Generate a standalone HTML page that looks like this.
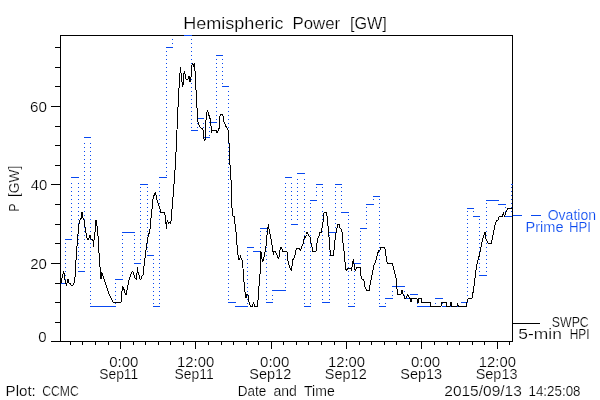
<!DOCTYPE html>
<html><head><meta charset="utf-8"><title>Hemispheric Power</title>
<style>
html,body{margin:0;padding:0;background:#fff;}
body{width:600px;height:400px;overflow:hidden;}
svg{display:block;font-family:"Liberation Sans",sans-serif;will-change:transform;}
</style></head><body>
<svg width="600" height="400" viewBox="0 0 600 400">
<rect width="600" height="400" fill="#fff"/>
<g shape-rendering="crispEdges" fill="none">
<rect x="60.5" y="35.5" width="452.0" height="306.0" stroke="#000" stroke-width="1"/>
<path d="M60.5 341.5h-10M60.5 322.5h-5.5M60.5 302.5h-5.5M60.5 283.5h-5.5M60.5 263.5h-10M60.5 243.5h-5.5M60.5 224.5h-5.5M60.5 204.5h-5.5M60.5 184.5h-10M60.5 165.5h-5.5M60.5 145.5h-5.5M60.5 126.5h-5.5M60.5 106.5h-10M60.5 86.5h-5.5M60.5 67.5h-5.5M60.5 47.5h-5.5M70.5 341.5v3.5M82.5 341.5v3.5M95.5 341.5v3.5M108.5 341.5v3.5M120.5 341.5v7.5M133.5 341.5v3.5M145.5 341.5v3.5M158.5 341.5v3.5M170.5 341.5v3.5M183.5 341.5v3.5M195.5 341.5v7.5M208.5 341.5v3.5M221.5 341.5v3.5M233.5 341.5v3.5M246.5 341.5v3.5M258.5 341.5v3.5M271.5 341.5v7.5M283.5 341.5v3.5M296.5 341.5v3.5M308.5 341.5v3.5M321.5 341.5v3.5M334.5 341.5v3.5M346.5 341.5v7.5M359.5 341.5v3.5M371.5 341.5v3.5M384.5 341.5v3.5M396.5 341.5v3.5M409.5 341.5v3.5M421.5 341.5v7.5M434.5 341.5v3.5M447.5 341.5v3.5M459.5 341.5v3.5M472.5 341.5v3.5M484.5 341.5v3.5M497.5 341.5v7.5M509.5 341.5v3.5" stroke="#000" stroke-width="1"/>
<path d="M60.0 283.5H66.0M65.0 239.5H72.0M71.0 177.5H79.0M78.0 271.5H85.0M84.0 137.5H91.0M90.0 306.5H97.0M96.0 306.5H104.0M103.0 306.5H110.0M109.0 306.5H116.0M115.0 279.5H123.0M122.0 232.5H129.0M128.0 232.5H135.0M134.0 263.5H141.0M140.0 184.5H148.0M147.0 255.5H154.0M153.0 306.5H160.0M159.0 177.5H167.0M166.0 47.5H173.0M184.0 35.5H192.0M191.0 130.5H198.0M197.0 118.5H204.0M203.0 137.5H210.0M209.0 122.5H217.0M216.0 55.5H223.0M222.0 86.5H229.0M228.0 302.5H236.0M235.0 306.5H242.0M241.0 306.5H248.0M247.0 247.5H254.0M253.0 251.5H261.0M260.0 228.5H267.0M266.0 302.5H273.0M272.0 290.5H280.0M279.0 290.5H286.0M285.0 177.5H292.0M291.0 224.5H298.0M297.0 173.5H305.0M304.0 306.5H311.0M310.0 200.5H317.0M316.0 184.5H323.0M322.0 302.5H330.0M329.0 232.5H336.0M335.0 184.5H342.0M341.0 212.5H349.0M348.0 306.5H355.0M354.0 263.5H361.0M360.0 228.5H367.0M366.0 204.5H374.0M373.0 196.5H380.0M379.0 306.5H386.0M385.0 298.5H393.0M392.0 286.5H399.0M398.0 286.5H405.0M404.0 298.5H411.0M410.0 294.5H418.0M417.0 306.5H424.0M423.0 306.5H430.0M429.0 306.5H436.0M435.0 298.5H443.0M442.0 306.5H449.0M448.0 306.5H455.0M454.0 306.5H462.0M461.0 302.5H468.0M467.0 208.5H474.0M473.0 216.5H480.0M479.0 275.5H487.0M486.0 200.5H493.0M492.0 200.5H499.0M498.0 204.5H506.0M505.0 216.5H512.0M511.0 184.5H513.0" stroke="#0848F0" stroke-width="1"/>
<path d="M65.0 243.5h1M65.0 247.5h1M65.0 251.5h1M65.0 255.5h1M65.0 259.5h1M65.0 263.5h1M65.0 267.5h1M65.0 271.5h1M65.0 275.5h1M65.0 279.5h1M71.0 183.5h1M71.0 187.5h1M71.0 191.5h1M71.0 195.5h1M71.0 199.5h1M71.0 203.5h1M71.0 207.5h1M71.0 211.5h1M71.0 215.5h1M71.0 219.5h1M71.0 223.5h1M71.0 227.5h1M71.0 231.5h1M71.0 235.5h1M78.0 183.5h1M78.0 187.5h1M78.0 191.5h1M78.0 195.5h1M78.0 199.5h1M78.0 203.5h1M78.0 207.5h1M78.0 211.5h1M78.0 215.5h1M78.0 219.5h1M78.0 223.5h1M78.0 227.5h1M78.0 231.5h1M78.0 235.5h1M78.0 239.5h1M78.0 243.5h1M78.0 247.5h1M78.0 251.5h1M78.0 255.5h1M78.0 259.5h1M78.0 263.5h1M78.0 267.5h1M84.0 143.5h1M84.0 147.5h1M84.0 151.5h1M84.0 155.5h1M84.0 159.5h1M84.0 163.5h1M84.0 167.5h1M84.0 171.5h1M84.0 175.5h1M84.0 179.5h1M84.0 183.5h1M84.0 187.5h1M84.0 191.5h1M84.0 195.5h1M84.0 199.5h1M84.0 203.5h1M84.0 207.5h1M84.0 211.5h1M84.0 215.5h1M84.0 219.5h1M84.0 223.5h1M84.0 227.5h1M84.0 231.5h1M84.0 235.5h1M84.0 239.5h1M84.0 243.5h1M84.0 247.5h1M84.0 251.5h1M84.0 255.5h1M84.0 259.5h1M84.0 263.5h1M84.0 267.5h1M90.0 143.5h1M90.0 147.5h1M90.0 151.5h1M90.0 155.5h1M90.0 159.5h1M90.0 163.5h1M90.0 167.5h1M90.0 171.5h1M90.0 175.5h1M90.0 179.5h1M90.0 183.5h1M90.0 187.5h1M90.0 191.5h1M90.0 195.5h1M90.0 199.5h1M90.0 203.5h1M90.0 207.5h1M90.0 211.5h1M90.0 215.5h1M90.0 219.5h1M90.0 223.5h1M90.0 227.5h1M90.0 231.5h1M90.0 235.5h1M90.0 239.5h1M90.0 243.5h1M90.0 247.5h1M90.0 251.5h1M90.0 255.5h1M90.0 259.5h1M90.0 263.5h1M90.0 267.5h1M90.0 271.5h1M90.0 275.5h1M90.0 279.5h1M90.0 283.5h1M90.0 287.5h1M90.0 291.5h1M90.0 295.5h1M90.0 299.5h1M90.0 303.5h1M115.0 283.5h1M115.0 287.5h1M115.0 291.5h1M115.0 295.5h1M115.0 299.5h1M115.0 303.5h1M122.0 235.5h1M122.0 239.5h1M122.0 243.5h1M122.0 247.5h1M122.0 251.5h1M122.0 255.5h1M122.0 259.5h1M122.0 263.5h1M122.0 267.5h1M122.0 271.5h1M122.0 275.5h1M134.0 235.5h1M134.0 239.5h1M134.0 243.5h1M134.0 247.5h1M134.0 251.5h1M134.0 255.5h1M134.0 259.5h1M140.0 187.5h1M140.0 191.5h1M140.0 195.5h1M140.0 199.5h1M140.0 203.5h1M140.0 207.5h1M140.0 211.5h1M140.0 215.5h1M140.0 219.5h1M140.0 223.5h1M140.0 227.5h1M140.0 231.5h1M140.0 235.5h1M140.0 239.5h1M140.0 243.5h1M140.0 247.5h1M140.0 251.5h1M140.0 255.5h1M140.0 259.5h1M147.0 187.5h1M147.0 191.5h1M147.0 195.5h1M147.0 199.5h1M147.0 203.5h1M147.0 207.5h1M147.0 211.5h1M147.0 215.5h1M147.0 219.5h1M147.0 223.5h1M147.0 227.5h1M147.0 231.5h1M147.0 235.5h1M147.0 239.5h1M147.0 243.5h1M147.0 247.5h1M147.0 251.5h1M153.0 259.5h1M153.0 263.5h1M153.0 267.5h1M153.0 271.5h1M153.0 275.5h1M153.0 279.5h1M153.0 283.5h1M153.0 287.5h1M153.0 291.5h1M153.0 295.5h1M153.0 299.5h1M153.0 303.5h1M159.0 183.5h1M159.0 187.5h1M159.0 191.5h1M159.0 195.5h1M159.0 199.5h1M159.0 203.5h1M159.0 207.5h1M159.0 211.5h1M159.0 215.5h1M159.0 219.5h1M159.0 223.5h1M159.0 227.5h1M159.0 231.5h1M159.0 235.5h1M159.0 239.5h1M159.0 243.5h1M159.0 247.5h1M159.0 251.5h1M159.0 255.5h1M159.0 259.5h1M159.0 263.5h1M159.0 267.5h1M159.0 271.5h1M159.0 275.5h1M159.0 279.5h1M159.0 283.5h1M159.0 287.5h1M159.0 291.5h1M159.0 295.5h1M159.0 299.5h1M159.0 303.5h1M166.0 51.5h1M166.0 55.5h1M166.0 59.5h1M166.0 63.5h1M166.0 67.5h1M166.0 71.5h1M166.0 75.5h1M166.0 79.5h1M166.0 83.5h1M166.0 87.5h1M166.0 91.5h1M166.0 95.5h1M166.0 99.5h1M166.0 103.5h1M166.0 107.5h1M166.0 111.5h1M166.0 115.5h1M166.0 119.5h1M166.0 123.5h1M166.0 127.5h1M166.0 131.5h1M166.0 135.5h1M166.0 139.5h1M166.0 143.5h1M166.0 147.5h1M166.0 151.5h1M166.0 155.5h1M166.0 159.5h1M166.0 163.5h1M166.0 167.5h1M166.0 171.5h1M166.0 175.5h1M172.0 39.5h1M172.0 43.5h1M191.0 39.5h1M191.0 43.5h1M191.0 47.5h1M191.0 51.5h1M191.0 55.5h1M191.0 59.5h1M191.0 63.5h1M191.0 67.5h1M191.0 71.5h1M191.0 75.5h1M191.0 79.5h1M191.0 83.5h1M191.0 87.5h1M191.0 91.5h1M191.0 95.5h1M191.0 99.5h1M191.0 103.5h1M191.0 107.5h1M191.0 111.5h1M191.0 115.5h1M191.0 119.5h1M191.0 123.5h1M191.0 127.5h1M197.0 123.5h1M197.0 127.5h1M203.0 123.5h1M203.0 127.5h1M203.0 131.5h1M203.0 135.5h1M209.0 127.5h1M209.0 131.5h1M209.0 135.5h1M216.0 59.5h1M216.0 63.5h1M216.0 67.5h1M216.0 71.5h1M216.0 75.5h1M216.0 79.5h1M216.0 83.5h1M216.0 87.5h1M216.0 91.5h1M216.0 95.5h1M216.0 99.5h1M216.0 103.5h1M216.0 107.5h1M216.0 111.5h1M216.0 115.5h1M216.0 119.5h1M222.0 59.5h1M222.0 63.5h1M222.0 67.5h1M222.0 71.5h1M222.0 75.5h1M222.0 79.5h1M222.0 83.5h1M228.0 91.5h1M228.0 95.5h1M228.0 99.5h1M228.0 103.5h1M228.0 107.5h1M228.0 111.5h1M228.0 115.5h1M228.0 119.5h1M228.0 123.5h1M228.0 127.5h1M228.0 131.5h1M228.0 135.5h1M228.0 139.5h1M228.0 143.5h1M228.0 147.5h1M228.0 151.5h1M228.0 155.5h1M228.0 159.5h1M228.0 163.5h1M228.0 167.5h1M228.0 171.5h1M228.0 175.5h1M228.0 179.5h1M228.0 183.5h1M228.0 187.5h1M228.0 191.5h1M228.0 195.5h1M228.0 199.5h1M228.0 203.5h1M228.0 207.5h1M228.0 211.5h1M228.0 215.5h1M228.0 219.5h1M228.0 223.5h1M228.0 227.5h1M228.0 231.5h1M228.0 235.5h1M228.0 239.5h1M228.0 243.5h1M228.0 247.5h1M228.0 251.5h1M228.0 255.5h1M228.0 259.5h1M228.0 263.5h1M228.0 267.5h1M228.0 271.5h1M228.0 275.5h1M228.0 279.5h1M228.0 283.5h1M228.0 287.5h1M228.0 291.5h1M228.0 295.5h1M228.0 299.5h1M247.0 251.5h1M247.0 255.5h1M247.0 259.5h1M247.0 263.5h1M247.0 267.5h1M247.0 271.5h1M247.0 275.5h1M247.0 279.5h1M247.0 283.5h1M247.0 287.5h1M247.0 291.5h1M247.0 295.5h1M247.0 299.5h1M247.0 303.5h1M260.0 231.5h1M260.0 235.5h1M260.0 239.5h1M260.0 243.5h1M260.0 247.5h1M266.0 231.5h1M266.0 235.5h1M266.0 239.5h1M266.0 243.5h1M266.0 247.5h1M266.0 251.5h1M266.0 255.5h1M266.0 259.5h1M266.0 263.5h1M266.0 267.5h1M266.0 271.5h1M266.0 275.5h1M266.0 279.5h1M266.0 283.5h1M266.0 287.5h1M266.0 291.5h1M266.0 295.5h1M266.0 299.5h1M272.0 295.5h1M272.0 299.5h1M285.0 183.5h1M285.0 187.5h1M285.0 191.5h1M285.0 195.5h1M285.0 199.5h1M285.0 203.5h1M285.0 207.5h1M285.0 211.5h1M285.0 215.5h1M285.0 219.5h1M285.0 223.5h1M285.0 227.5h1M285.0 231.5h1M285.0 235.5h1M285.0 239.5h1M285.0 243.5h1M285.0 247.5h1M285.0 251.5h1M285.0 255.5h1M285.0 259.5h1M285.0 263.5h1M285.0 267.5h1M285.0 271.5h1M285.0 275.5h1M285.0 279.5h1M285.0 283.5h1M285.0 287.5h1M291.0 183.5h1M291.0 187.5h1M291.0 191.5h1M291.0 195.5h1M291.0 199.5h1M291.0 203.5h1M291.0 207.5h1M291.0 211.5h1M291.0 215.5h1M291.0 219.5h1M297.0 179.5h1M297.0 183.5h1M297.0 187.5h1M297.0 191.5h1M297.0 195.5h1M297.0 199.5h1M297.0 203.5h1M297.0 207.5h1M297.0 211.5h1M297.0 215.5h1M297.0 219.5h1M304.0 179.5h1M304.0 183.5h1M304.0 187.5h1M304.0 191.5h1M304.0 195.5h1M304.0 199.5h1M304.0 203.5h1M304.0 207.5h1M304.0 211.5h1M304.0 215.5h1M304.0 219.5h1M304.0 223.5h1M304.0 227.5h1M304.0 231.5h1M304.0 235.5h1M304.0 239.5h1M304.0 243.5h1M304.0 247.5h1M304.0 251.5h1M304.0 255.5h1M304.0 259.5h1M304.0 263.5h1M304.0 267.5h1M304.0 271.5h1M304.0 275.5h1M304.0 279.5h1M304.0 283.5h1M304.0 287.5h1M304.0 291.5h1M304.0 295.5h1M304.0 299.5h1M304.0 303.5h1M310.0 203.5h1M310.0 207.5h1M310.0 211.5h1M310.0 215.5h1M310.0 219.5h1M310.0 223.5h1M310.0 227.5h1M310.0 231.5h1M310.0 235.5h1M310.0 239.5h1M310.0 243.5h1M310.0 247.5h1M310.0 251.5h1M310.0 255.5h1M310.0 259.5h1M310.0 263.5h1M310.0 267.5h1M310.0 271.5h1M310.0 275.5h1M310.0 279.5h1M310.0 283.5h1M310.0 287.5h1M310.0 291.5h1M310.0 295.5h1M310.0 299.5h1M310.0 303.5h1M316.0 187.5h1M316.0 191.5h1M316.0 195.5h1M322.0 187.5h1M322.0 191.5h1M322.0 195.5h1M322.0 199.5h1M322.0 203.5h1M322.0 207.5h1M322.0 211.5h1M322.0 215.5h1M322.0 219.5h1M322.0 223.5h1M322.0 227.5h1M322.0 231.5h1M322.0 235.5h1M322.0 239.5h1M322.0 243.5h1M322.0 247.5h1M322.0 251.5h1M322.0 255.5h1M322.0 259.5h1M322.0 263.5h1M322.0 267.5h1M322.0 271.5h1M322.0 275.5h1M322.0 279.5h1M322.0 283.5h1M322.0 287.5h1M322.0 291.5h1M322.0 295.5h1M322.0 299.5h1M329.0 235.5h1M329.0 239.5h1M329.0 243.5h1M329.0 247.5h1M329.0 251.5h1M329.0 255.5h1M329.0 259.5h1M329.0 263.5h1M329.0 267.5h1M329.0 271.5h1M329.0 275.5h1M329.0 279.5h1M329.0 283.5h1M329.0 287.5h1M329.0 291.5h1M329.0 295.5h1M329.0 299.5h1M335.0 187.5h1M335.0 191.5h1M335.0 195.5h1M335.0 199.5h1M335.0 203.5h1M335.0 207.5h1M335.0 211.5h1M335.0 215.5h1M335.0 219.5h1M335.0 223.5h1M335.0 227.5h1M341.0 187.5h1M341.0 191.5h1M341.0 195.5h1M341.0 199.5h1M341.0 203.5h1M341.0 207.5h1M348.0 215.5h1M348.0 219.5h1M348.0 223.5h1M348.0 227.5h1M348.0 231.5h1M348.0 235.5h1M348.0 239.5h1M348.0 243.5h1M348.0 247.5h1M348.0 251.5h1M348.0 255.5h1M348.0 259.5h1M348.0 263.5h1M348.0 267.5h1M348.0 271.5h1M348.0 275.5h1M348.0 279.5h1M348.0 283.5h1M348.0 287.5h1M348.0 291.5h1M348.0 295.5h1M348.0 299.5h1M348.0 303.5h1M354.0 267.5h1M354.0 271.5h1M354.0 275.5h1M354.0 279.5h1M354.0 283.5h1M354.0 287.5h1M354.0 291.5h1M354.0 295.5h1M354.0 299.5h1M354.0 303.5h1M360.0 231.5h1M360.0 235.5h1M360.0 239.5h1M360.0 243.5h1M360.0 247.5h1M360.0 251.5h1M360.0 255.5h1M360.0 259.5h1M366.0 207.5h1M366.0 211.5h1M366.0 215.5h1M366.0 219.5h1M366.0 223.5h1M373.0 199.5h1M379.0 199.5h1M379.0 203.5h1M379.0 207.5h1M379.0 211.5h1M379.0 215.5h1M379.0 219.5h1M379.0 223.5h1M379.0 227.5h1M379.0 231.5h1M379.0 235.5h1M379.0 239.5h1M379.0 243.5h1M379.0 247.5h1M379.0 251.5h1M379.0 255.5h1M379.0 259.5h1M379.0 263.5h1M379.0 267.5h1M379.0 271.5h1M379.0 275.5h1M379.0 279.5h1M379.0 283.5h1M379.0 287.5h1M379.0 291.5h1M379.0 295.5h1M379.0 299.5h1M379.0 303.5h1M385.0 303.5h1M392.0 291.5h1M392.0 295.5h1M404.0 291.5h1M404.0 295.5h1M417.0 299.5h1M417.0 303.5h1M435.0 303.5h1M442.0 303.5h1M467.0 211.5h1M467.0 215.5h1M467.0 219.5h1M467.0 223.5h1M467.0 227.5h1M467.0 231.5h1M467.0 235.5h1M467.0 239.5h1M467.0 243.5h1M467.0 247.5h1M467.0 251.5h1M467.0 255.5h1M467.0 259.5h1M467.0 263.5h1M467.0 267.5h1M467.0 271.5h1M467.0 275.5h1M467.0 279.5h1M467.0 283.5h1M467.0 287.5h1M467.0 291.5h1M467.0 295.5h1M467.0 299.5h1M473.0 211.5h1M479.0 219.5h1M479.0 223.5h1M479.0 227.5h1M479.0 231.5h1M479.0 235.5h1M479.0 239.5h1M479.0 243.5h1M479.0 247.5h1M479.0 251.5h1M479.0 255.5h1M479.0 259.5h1M479.0 263.5h1M479.0 267.5h1M479.0 271.5h1M486.0 203.5h1M486.0 207.5h1M486.0 211.5h1M486.0 215.5h1M486.0 219.5h1M486.0 223.5h1M486.0 227.5h1M486.0 231.5h1M486.0 235.5h1M486.0 239.5h1M486.0 243.5h1M486.0 247.5h1M486.0 251.5h1M486.0 255.5h1M486.0 259.5h1M486.0 263.5h1M486.0 267.5h1M486.0 271.5h1M505.0 207.5h1M505.0 211.5h1M511.0 187.5h1M511.0 191.5h1M511.0 195.5h1M511.0 199.5h1M511.0 203.5h1M511.0 207.5h1M511.0 211.5h1" stroke="#0848F0" stroke-width="1"/>
<path d="M513 215.5H522M531 215.5H540.5" stroke="#0848F0" stroke-width="1"/>
<path d="M60.5 287L61.5 279L62.5 277L63.5 271L64.5 275L65 280L66 284L66.5 286L67 283L68 279L69 283L70 283L71 285L72 286L73 285L74 283L75 277L75.5 268L76.5 253L77.5 240L78.5 228L79.5 221L80.5 219L81.5 218L82 212L83 218L84 220L85 227L86 233L87 238L88 240L89 238L90 235L91 239L92 239L93 241L93.5 247L94 240L95 232L95.5 226L96 220L97 226L98 236L98.5 243L99.5 262L100.5 272L101 279L101.5 272L103 276L105 282L107 288L109 294L111 298L113 302L114 302.5L121 302.5L121.5 297L122.5 286L123.5 288L124.5 291L125.5 294.5L126.5 294L127 290L128 285L129 280L130 277L131 274L132.5 271L134 275L135 278L136.5 279.5L137 273L137.5 267L138 272L139 275L140 279L141 279L142 276L143 275L143.5 270L144.5 262L145.5 254L146.5 246L147.5 240L148.5 235L149.5 232L150 229L150.5 223L152.4 205L153.4 196L154.5 195L155.5 192L156.5 197L157.5 202L159 206L160 209L160.5 212L161 212.5L164.5 212.5L165.5 217L166 224L166.5 228.5L167 222L167.5 220L168.5 224L169.5 222.5L170.5 224L171 221L171.5 216L172.5 203L173.5 192L174.5 177L175.5 163L176.5 142L177.5 118L178.5 97L179.5 80L180.5 67L181.5 78L182.5 86L183 86L183.5 75L184.5 71L185.5 76L186 79L188 79L188.5 76L189.5 76L190 82L191 77L191.5 70L192 65L193 63.5L193.5 67L194.5 63.5L195 71L195.5 80L196 90L196.5 98L197 108L197 118L198 122L199 125L200 127L201 128L202.5 129L203 130L203.5 133L203.5 137L204.5 141L205.5 139L205.5 127L206 120L206.5 114L207.5 110.5L208.5 114L209.5 117L210.5 120L211 126L211 130L211.5 133L212 130.5L216 130.5L217 133L218.5 130L219.5 127L219.5 120L220 116L220.5 114.5L222.5 114.5L223.5 117L224 122L225 124L225.5 126L226.5 127L227 128L228 130L228.5 135L229.5 150L230 165L231 180L231 204L232.5 210L232.5 216L234 216L234.5 221L235.5 226L236.5 238L237.5 251L238.5 258L239 260L240 258L240.5 255L241 258L242 260L242.6 263L243.5 275L244.5 288L245.5 296L246 298L247 294.5L248 295L248.5 300L249.5 304L250.5 306.5L252 306.5L253.5 302.5L255 306.5L257.5 306.5L258 300L258.5 293L259.5 280L260.5 268L261 251.5L261.5 256L262 259L262.5 261.5L263.5 260L264.5 255L265.5 250L266 246L266.5 240L267.5 230L268.5 224L269 229L269.5 232L270.5 236L271.5 242L272.5 247L273 251.5L273.5 255L274 251.5L275.5 252L276.5 254L277.5 256L278.5 259L279.5 255L280 250L281 247.5L282 249L282.5 251L283.5 251.5L287 251.5L287.5 258L288.5 263L289.5 267L290.5 269L291.5 271L292 266L292.5 260L293.5 259L294.5 257L295.5 253L296.5 248L299.5 248L300.5 251L301.5 247L302.5 245L303.5 242.5L304 239L305 236.5L305.5 238L306.5 234.5L307 232.5L308.5 235L309.5 236.5L310.5 238L311 243L312 247L312.5 251.5L316 251.5L316.5 247L317 243L317.5 239L319 236L320 232.5L321.5 232.5L322 228L323 222L323.5 216L324 213L324.5 212.5L326.5 212.5L327 216L327.5 220L328 226L328.5 232L329 237L329.5 245L330.5 255.5L333.5 255.5L334 250L334.5 245L335.5 236L336.5 231L337.5 225L338 224.5L339.5 224.5L340 228L341 229L341.5 231L342.5 233L343 243L344 251L344.5 258L345 262L345.5 268L346.5 271L347.5 268L350 268L351 269L351.5 271L352.5 264L353.5 259L354 264L354.5 268L355.5 271L356.5 267.5L360 267.5L360.5 270L361 276L362 279L364 280.5L364.5 284L365 287L366.5 290L369.5 290L370 285L371 280L372 275L373 270L374 265L375.5 262L376.5 258L377.5 254L378.5 251L380 250L381 247.5L384.5 247.5L385.5 251L386 256L387 262L387.5 263.5L392.5 263.5L393 266L394 270L395 274L396 278L396.5 284L397 289L397.5 292L398 294.5L401 294.5L401.5 290.5L402.5 290.5L403 294L404 296L404.5 298L406 298L407.5 294.5L408.5 296L409.5 298L410.5 298.5L411 302L411.5 298.5L417 298.5L417.5 302.5L418.5 302.5L419 298.5L421.5 298.5L422 302.5L430.5 302.5L431 306.5L441 306.5L441.5 302.5L446.5 302.5L447 306.5L450 306.5L450.5 302L451.5 302L452 306.5L457 306.5L457.5 303L458.5 306.5L466.5 306.5L467 302L468 299L472 298.5L472.5 294.5L473.5 290.5L474.5 282L475.5 274L476.5 267L477.5 262L478.5 258L479.5 255L480.5 250L481 247L481.5 244L482.5 240L483.5 236L484.5 234L485 232L485.5 236L486 239L487 241L487.5 243L491.5 243.5L492 240L492.5 237L493.5 233L494.5 228L495 225L496 222L497 220.5L498 220L499 217L499.5 216L502.5 216L503.5 212L504 215L504.5 217L505.5 213L506.5 211L507.5 208.5L512 208.5" stroke="#000" stroke-width="1" stroke-linejoin="bevel"/>
<path d="M513 323.5H540" stroke="#000" stroke-width="1"/>
</g>
<g stroke="#fff" stroke-width="0.2" paint-order="fill">
<text y="28.6" font-size="16"><tspan x="183.22" textLength="100.26" lengthAdjust="spacingAndGlyphs">Hemispheric</tspan> <tspan x="292.51" textLength="47.59" lengthAdjust="spacingAndGlyphs">Power</tspan> <tspan x="349.93" textLength="36.83" lengthAdjust="spacingAndGlyphs">[GW]</tspan></text>
<text y="112" font-size="14"><tspan x="29.95" textLength="16.93" lengthAdjust="spacingAndGlyphs">60</tspan></text>
<text y="190" font-size="14"><tspan x="30.72" textLength="16.49" lengthAdjust="spacingAndGlyphs">40</tspan></text>
<text y="269" font-size="14"><tspan x="30.20" textLength="16.67" lengthAdjust="spacingAndGlyphs">20</tspan></text>
<text y="342" font-size="14"><tspan x="38.34" textLength="8.35" lengthAdjust="spacingAndGlyphs">0</tspan></text>
<text y="0" font-size="14" transform="translate(19 210.6) rotate(-90)"><tspan x="-0.90" textLength="7.71" lengthAdjust="spacingAndGlyphs">P</tspan> <tspan x="13.62" textLength="31.25" lengthAdjust="spacingAndGlyphs">[GW]</tspan></text>
<text y="367" font-size="14"><tspan x="109.24" textLength="29.25" lengthAdjust="spacingAndGlyphs">0:00</tspan></text>
<text y="379" font-size="14"><tspan x="99.22" textLength="39.03" lengthAdjust="spacingAndGlyphs">Sep11</tspan></text>
<text y="367" font-size="14"><tspan x="177.12" textLength="37.11" lengthAdjust="spacingAndGlyphs">12:00</tspan></text>
<text y="379" font-size="14"><tspan x="174.62" textLength="39.03" lengthAdjust="spacingAndGlyphs">Sep11</tspan></text>
<text y="367" font-size="14"><tspan x="260.04" textLength="29.25" lengthAdjust="spacingAndGlyphs">0:00</tspan></text>
<text y="379" font-size="14"><tspan x="249.37" textLength="41.83" lengthAdjust="spacingAndGlyphs">Sep12</tspan></text>
<text y="367" font-size="14"><tspan x="328.02" textLength="37.11" lengthAdjust="spacingAndGlyphs">12:00</tspan></text>
<text y="379" font-size="14"><tspan x="324.87" textLength="41.83" lengthAdjust="spacingAndGlyphs">Sep12</tspan></text>
<text y="367" font-size="14"><tspan x="410.94" textLength="29.25" lengthAdjust="spacingAndGlyphs">0:00</tspan></text>
<text y="379" font-size="14"><tspan x="400.27" textLength="41.83" lengthAdjust="spacingAndGlyphs">Sep13</tspan></text>
<text y="367" font-size="14"><tspan x="478.82" textLength="37.11" lengthAdjust="spacingAndGlyphs">12:00</tspan></text>
<text y="379" font-size="14"><tspan x="475.67" textLength="41.83" lengthAdjust="spacingAndGlyphs">Sep13</tspan></text>
<text y="395.8" font-size="14"><tspan x="5.57" textLength="30.25" lengthAdjust="spacingAndGlyphs">Plot:</tspan> <tspan x="42.14" textLength="36.63" lengthAdjust="spacingAndGlyphs">CCMC</tspan></text>
<text y="395.8" font-size="14"><tspan x="237.74" textLength="28.57" lengthAdjust="spacingAndGlyphs">Date</tspan> <tspan x="273.40" textLength="23.43" lengthAdjust="spacingAndGlyphs">and</tspan> <tspan x="304.02" textLength="30.67" lengthAdjust="spacingAndGlyphs">Time</tspan></text>
<text y="396" font-size="14"><tspan x="444.27" textLength="77.57" lengthAdjust="spacingAndGlyphs">2015/09/13</tspan> <tspan x="528.53" textLength="51.97" lengthAdjust="spacingAndGlyphs">14:25:08</tspan></text>
<text y="219.8" font-size="14" fill="#0848F0"><tspan x="547.67" textLength="48.34" lengthAdjust="spacingAndGlyphs">Ovation</tspan></text>
<text y="231.8" font-size="14" fill="#0848F0"><tspan x="525.56" textLength="38.03" lengthAdjust="spacingAndGlyphs">Prime</tspan> <tspan x="568.96" textLength="22.05" lengthAdjust="spacingAndGlyphs">HPI</tspan></text>
<text y="326.6" font-size="14"><tspan x="551.74" textLength="37.05" lengthAdjust="spacingAndGlyphs">SWPC</tspan></text>
<text y="338.6" font-size="14"><tspan x="518.35" textLength="43.53" lengthAdjust="spacingAndGlyphs">5-min</tspan> <tspan x="569.77" textLength="19.84" lengthAdjust="spacingAndGlyphs">HPI</tspan></text>
</g>
</svg>
</body></html>
